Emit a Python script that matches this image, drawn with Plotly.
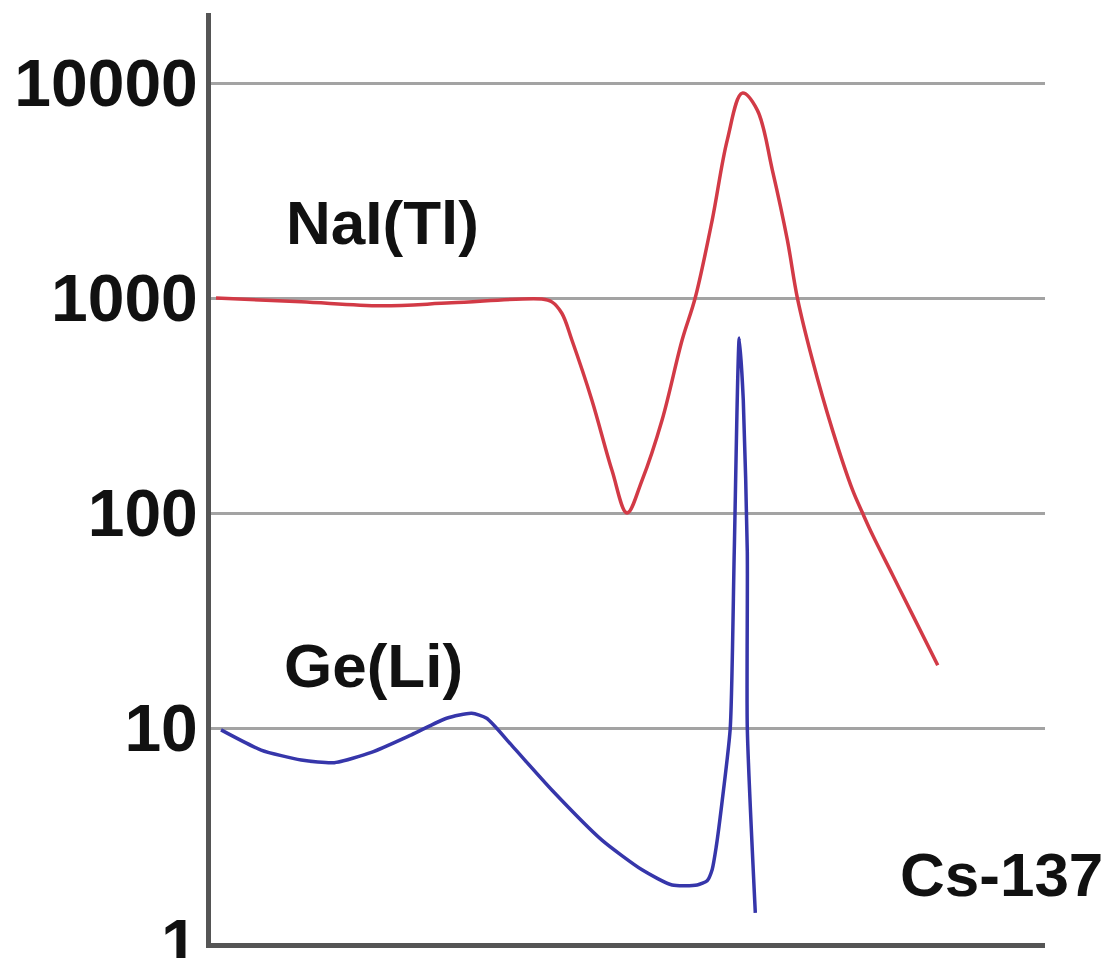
import plotly.graph_objects as go

# channel (arbitrary energy axis) and counts
nai_x = [5, 90, 170, 240, 330, 340, 350, 360, 380, 400, 415, 430, 450, 470, 483, 500, 515, 530, 545, 560, 575, 585, 600, 620, 640, 650, 660, 680, 700, 725]
nai_y = [1000, 960, 920, 950, 990, 960, 850, 638, 335, 158, 100, 142, 271, 638, 1000, 2305, 5430, 8980, 7490, 3940, 1860, 1000, 515, 243, 128, 100, 79, 51.5, 33.5, 19.6]

ge_x = [10, 50, 90, 123, 160, 200, 235, 260, 275, 300, 340, 390, 430, 460, 485, 495, 500, 504, 510, 518, 522, 527, 531, 535, 535, 543]
ge_y = [9.8, 7.9, 7.1, 6.9, 7.7, 9.3, 11.1, 11.7, 11.1, 8.3, 5.15, 3.01, 2.19, 1.86, 1.86, 1.95, 2.2, 2.8, 4.6, 10, 66, 652, 335, 66, 10, 1.38]

tick_vals = [1, 10, 100, 1000, 10000]
tick_text = ["1", "10", "100", "1000", "10000"]

labels = ["NaI(Tl)", "Ge(Li)", "Cs-137"]
label_x = [171, 162, 789]
label_y = [3.35, 1.29, 0.32]  # log10 positions

fig = go.Figure()
fig.add_trace(go.Scatter(x=nai_x, y=nai_y, mode="lines",
                         line=dict(color="#d23a46", width=3.5, shape="spline", smoothing=1.0),
                         hoverinfo="skip", showlegend=False))
fig.add_trace(go.Scatter(x=ge_x, y=ge_y, mode="lines",
                         line=dict(color="#3636aa", width=3.5, shape="spline", smoothing=0.6),
                         hoverinfo="skip", showlegend=False))

for t, x, y in zip(labels, label_x, label_y):
    fig.add_annotation(x=x, y=y, xref="x", yref="y", text=t, showarrow=False,
                       xanchor="center", yanchor="middle",
                       font=dict(family="Liberation Sans, Arial", size=62, color="#111111", weight="bold"))

fig.update_layout(
    width=1110, height=958,
    margin=dict(l=203, r=73, t=5, b=23, autoexpand=False),
    paper_bgcolor="white", plot_bgcolor="white",
    showlegend=False,
    font=dict(family="Liberation Sans, Arial"),
)
fig.update_xaxes(range=[0, 832], showgrid=False, zeroline=False, automargin=False,
                 showline=True, linecolor="#555555", linewidth=5,
                 showticklabels=False, ticks="")
fig.update_yaxes(type="log", range=[0, 4.326], showgrid=True, automargin=False,
                 gridcolor="#a3a3a3", gridwidth=3, zeroline=False,
                 showline=True, linecolor="#555555", linewidth=5,
                 tickvals=tick_vals, ticktext=tick_text, ticks="", ticklen=0,
                 ticklabelstandoff=-5, ticklabeloverflow="allow",
                 tickfont=dict(family="Liberation Sans, Arial", size=66, color="#111111", weight="bold"))

fig.write_html("out.html")
